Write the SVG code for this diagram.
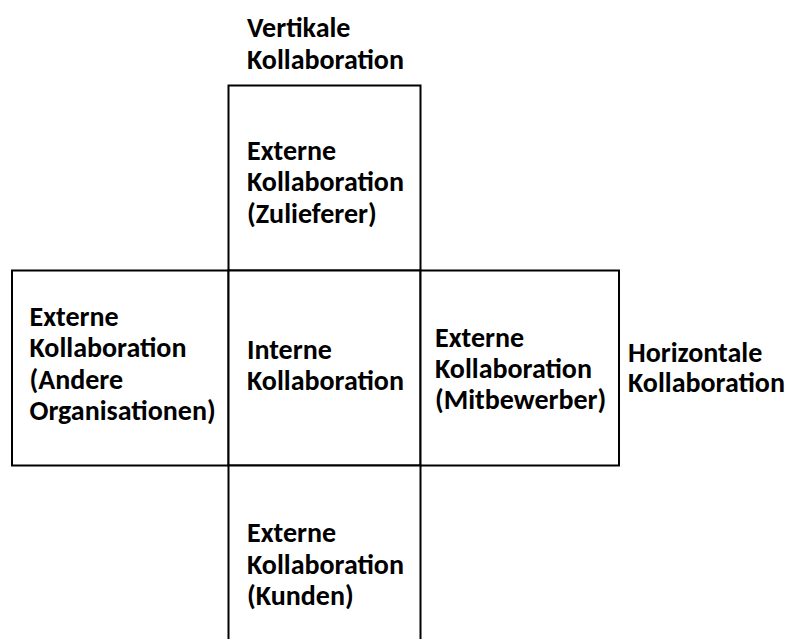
<svg xmlns="http://www.w3.org/2000/svg" width="796" height="639" viewBox="0 0 796 639">
  <style>
    .box { fill: #ffffff; stroke: #000000; stroke-width: 2; }
    .lbl { font-family: Carlito, Calibri, Lato, "Open Sans", sans-serif; font-weight: bold; font-size: 28px; fill: #000000; }
  </style>
  <rect x="0" y="0" width="796" height="639" fill="#ffffff"/>

  <!-- axis captions -->
  <g id="vertikal">
    <text class="lbl" x="247" y="37">Vertikale</text>
    <text class="lbl" x="247" y="68.5">Kollaboration</text>
  </g>
  <g id="horizontal">
    <text class="lbl" x="628" y="362">Horizontale</text>
    <text class="lbl" x="628" y="392">Kollaboration</text>
  </g>

  <!-- top: suppliers -->
  <g id="zulieferer">
    <rect class="box" x="228.5" y="85.5" width="192" height="185"/>
    <text class="lbl" x="247" y="159.5">Externe</text>
    <text class="lbl" x="247" y="191">Kollaboration</text>
    <text class="lbl" x="247" y="222.5">(Zulieferer)</text>
  </g>

  <!-- middle row -->
  <g id="andere">
    <rect class="box" x="12" y="270.5" width="216.5" height="195"/>
    <text class="lbl" x="29.5" y="326">Externe</text>
    <text class="lbl" x="29.5" y="357">Kollaboration</text>
    <text class="lbl" x="29.5" y="388.5">(Andere</text>
    <text class="lbl" x="29.5" y="420">Organisationen)</text>
  </g>
  <g id="intern">
    <rect class="box" x="228.5" y="270.5" width="192" height="195"/>
    <text class="lbl" x="247" y="359">Interne</text>
    <text class="lbl" x="247" y="390">Kollaboration</text>
  </g>
  <g id="mitbewerber">
    <rect class="box" x="420.5" y="270.5" width="198.5" height="195"/>
    <text class="lbl" x="435" y="347">Externe</text>
    <text class="lbl" x="435" y="377.5">Kollaboration</text>
    <text class="lbl" x="435" y="409">(Mitbewerber)</text>
  </g>

  <!-- bottom: customers (runs past the lower edge) -->
  <g id="kunden">
    <rect class="box" x="228.5" y="465.5" width="192" height="190"/>
    <text class="lbl" x="247" y="542">Externe</text>
    <text class="lbl" x="247" y="573.5">Kollaboration</text>
    <text class="lbl" x="247" y="605">(Kunden)</text>
  </g>

  <g id="connectors"/>
</svg>
